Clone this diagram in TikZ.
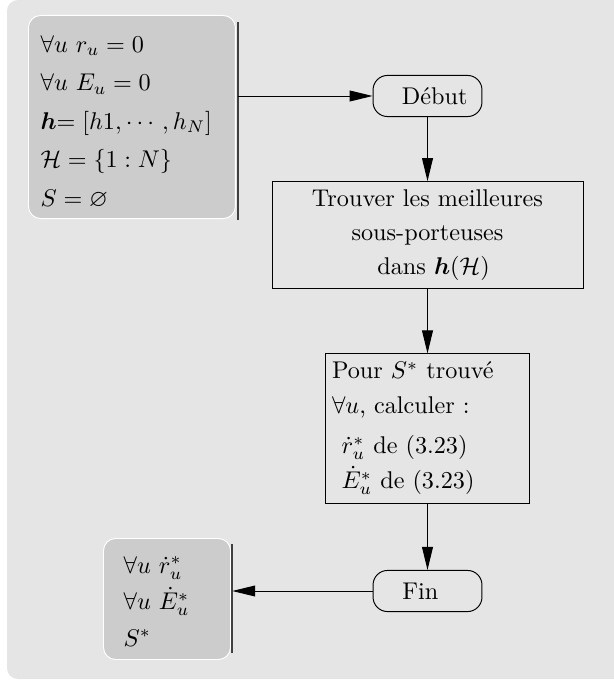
\documentclass[tikz,border=0pt]{standalone}
\usepackage{amsmath,amssymb}
\usetikzlibrary{arrows.meta}
\begin{document}
\begin{tikzpicture}[x=0.4132pt,y=-0.4132pt,
	data/.style={rectangle,rounded corners=5pt,draw=white,fill=black!20,anchor=north west,align=left,inner ysep=1pt},
	term/.style={rectangle,rounded corners=6pt,draw,minimum width=45pt,minimum height=17pt},
	proc/.style={rectangle,draw},
	rim/.style={draw=black!75,line width=0.7pt},
	flow/.style={-{Triangle[length=9.5pt,width=4.5pt]}}]
\useasboundingbox (0,0) rectangle (613,681);
\fill[black!10,rounded corners=4.5pt] (7,0) rectangle (640,679);

\node[data,inner xsep=5pt,text width=75.5pt,minimum height=83.9pt] (init) at (28,15)
	{\rule{0pt}{11pt}$\forall u\ r_u=0$\\[3.9pt]
	 $\forall u\ E_u=0$\\[3.9pt]
	 $\boldsymbol{h}\mathord{=}\;[h1,\cdots,h_N]$\\[3.9pt]
	 $\mathcal{H}=\{1:N\}$\\[3.9pt]
	 $S=\varnothing$};
\node[term] (debut) at (427.5,96) {\hspace*{6pt}D\'ebut};
\node[proc,minimum width=128.5pt,minimum height=42.1pt,align=center] (find) at (427.5,235)
	{Trouver les meilleures\\[2pt]
	 sous-porteuses\hspace*{18pt}\\[2pt]
	 \hspace*{5pt}dans $\boldsymbol{h}(\mathcal{H})$};
\node[proc,inner xsep=2.5pt,text width=78.9pt,minimum height=61.6pt,align=left] (calc) at (427.5,428.5)
	{Pour $S^*$ trouv\'e\\[2.5pt]
	 $\forall u$, calculer :\\[4.5pt]
	 \hspace*{4pt}$\dot{r}^*_u$ de (3.23)\\[2.5pt]
	 \hspace*{4pt}$\dot{E}^*_u$ de (3.23)};
\node[term] (fin) at (427.5,591) {Fin\hspace*{6pt}};
\node[data,inner xsep=8.3pt,text width=35.9pt,minimum height=50pt] (out) at (103,538)
	{\rule{0pt}{9pt}$\forall u\ \dot{r}^*_u$\\[3pt]
	 $\forall u\ \dot{E}^*_u$\\[3pt]
	 $S^*$};

\draw[rim] ([xshift=0.8pt,yshift=-3pt]init.north east) coordinate (itop) -- ([xshift=0.8pt,yshift=-0.5pt]init.south east);
\draw[rim] ([xshift=0.5pt,yshift=-2.5pt]out.north east) coordinate (otop) -- ([xshift=0.5pt,yshift=3pt]out.south east);

\draw[flow] (itop |- debut) -- (debut);
\draw[flow] (debut) -- (find);
\draw[flow] (find) -- (calc);
\draw[flow] (calc) -- (fin);
\draw[flow] (fin) -- (fin -| otop);
\end{tikzpicture}
\end{document}
